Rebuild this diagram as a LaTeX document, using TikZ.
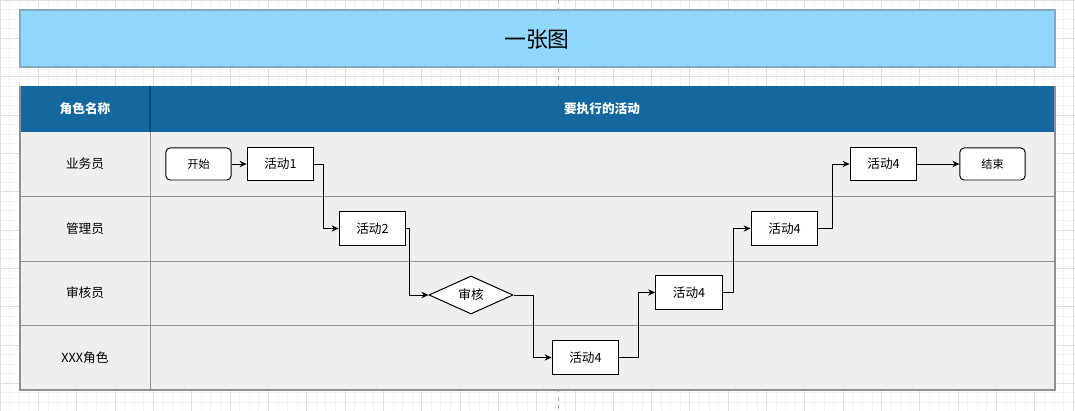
\documentclass[tikz,border=0pt]{standalone}
\usepackage{fontspec}
\setmainfont{Noto Sans CJK SC}
\usepackage{xcolor}
\usetikzlibrary{shapes.geometric, arrows.meta, positioning}

\definecolor{titlefill}{HTML}{91D8FE}
\definecolor{titleline}{HTML}{85A9C6}
\definecolor{headfill}{HTML}{14689E}
\definecolor{headline}{HTML}{0E4B73}
\definecolor{lanefill}{HTML}{EFEFEF}
\definecolor{laneline}{HTML}{909090}

\begin{document}
\begin{tikzpicture}[
    x=0.025cm, y=-0.025cm,
    gridminor/.style={draw=black!5, line width=0.4pt},
    gridmajor/.style={draw=black!12, line width=0.4pt},
    label/.style={font=\fontsize{9}{10}\selectfont},
    headlabel/.style={font=\fontsize{9}{10}\selectfont\bfseries, text=white},
    activity/.style={rectangle, draw, fill=white, line width=0.7pt, minimum width=1.67cm, minimum height=0.84cm, font=\fontsize{9}{10}\selectfont, inner sep=0pt},
    terminal/.style={rectangle, draw, fill=white, line width=0.7pt, rounded corners=3pt, minimum width=1.63cm, minimum height=0.8cm, font=\fontsize{8}{9}\selectfont, inner sep=0pt},
    decision/.style={diamond, draw, fill=white, line width=0.7pt, aspect=2.2, minimum width=2.1cm, minimum height=0.95cm, font=\fontsize{9}{10}\selectfont, inner sep=0pt},
    flow/.style={-{Stealth[length=5pt, width=4.5pt]}, line width=0.6pt}
]
\useasboundingbox (0,0) rectangle (1075,411);

% canvas grid
\fill[white] (0,0) rectangle (1075,411);
\foreach \i in {0,...,112} {
    \draw[gridminor] (\i*9.58,0) -- (\i*9.58,411);
}
\foreach \j in {0,...,43} {
    \draw[gridminor] (0,\j*9.58) -- (1075,\j*9.58);
}
\foreach \i in {0,...,28} {
    \draw[gridmajor] (\i*38.32,0) -- (\i*38.32,411);
}
\foreach \j in {0,...,10} {
    \draw[gridmajor] (0,\j*38.32) -- (1075,\j*38.32);
}
\draw[black!35, dashed, line width=0.5pt] (558,0) -- (558,411);

% TITLE
\draw[fill=titlefill, draw=titleline, line width=0.8pt] (20,10) rectangle (1055,67);
\node[font=\fontsize{15.5}{18}\selectfont] (title) at (537,39) {一张图};

% HEADER
\fill[headfill] (20,86) rectangle (1055,132);
\draw[headline, line width=0.8pt] (150,86) -- (150,132);
\node[headlabel] (rolehead) at (85,109) {角色名称};
\node[headlabel] (acthead) at (602,109) {要执行的活动};

% LANES
\fill[lanefill] (20,132) rectangle (1055,390);
\draw[laneline, line width=0.7pt] (20,196.5) -- (1055,196.5);
\draw[laneline, line width=0.7pt] (20,261) -- (1055,261);
\draw[laneline, line width=0.7pt] (20,325.5) -- (1055,325.5);
\draw[laneline, line width=0.7pt] (150,132) -- (150,390);
\draw[laneline, line width=0.8pt] (20,86) -- (20,390) -- (1055,390) -- (1055,86);

\node[label] (role1) at (85,164) {业务员};
\node[label] (role2) at (85,228.5) {管理员};
\node[label] (role3) at (85,293) {审核员};
\node[label] (role4) at (85,357.5) {XXX角色};

% ACTIVITIES
\node[terminal] (start) at (198.5,164) {开始};
\node[activity] (act1) at (280.5,164) {活动1};
\node[activity] (act2) at (372.5,228.5) {活动2};
\node[decision] (check) at (471,295) {审核};
\node[activity] (act4a) at (585.5,357.5) {活动4};
\node[activity] (act4b) at (689,292.5) {活动4};
\node[activity] (act4c) at (784.5,228.5) {活动4};
\node[activity] (act4d) at (883.5,164) {活动4};
\node[terminal] (finish) at (992.5,164) {结束};

% Connections
\draw[flow] (start) -- (act1);
\draw[flow] (act1.east) -- ++(9,0) |- (act2.west);
\draw[flow] (act2.east) -- ++(3,0) |- (check.west);
\draw[flow] (check.east) -- ++(20,0) |- (act4a.west);
\draw[flow] (act4a.east) -- ++(19,0) |- (act4b.west);
\draw[flow] (act4b.east) -- ++(11,0) |- (act4c.west);
\draw[flow] (act4c.east) -- ++(14,0) |- (act4d.west);
\draw[flow] (act4d) -- (finish);

\end{tikzpicture}
\end{document}
